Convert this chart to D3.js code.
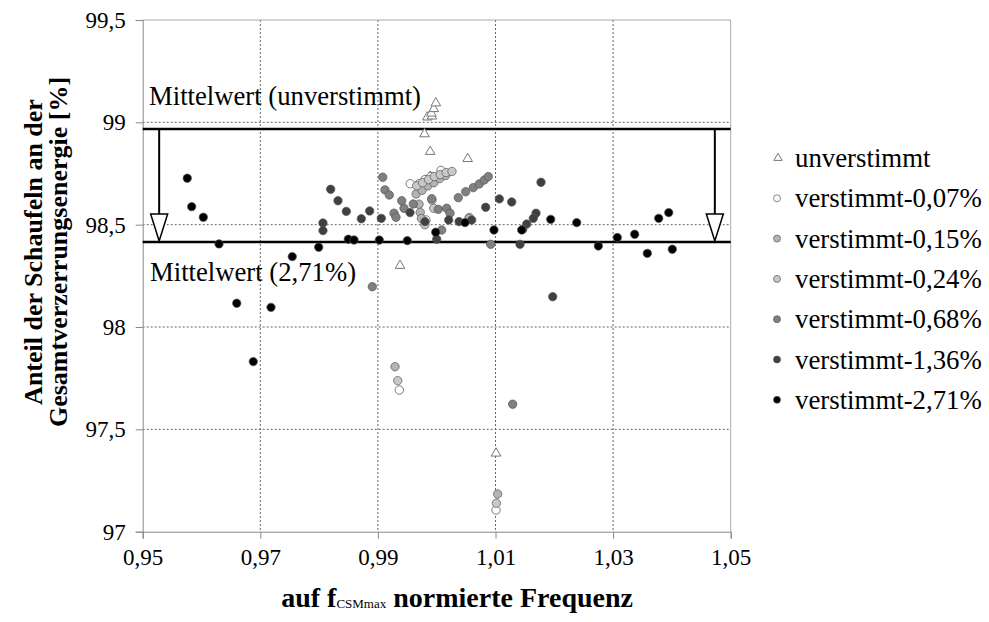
<!DOCTYPE html>
<html><head><meta charset="utf-8">
<script src="https://cdn.jsdelivr.net/npm/d3@7"></script>
<style>
body{margin:0;background:#fff}
text{font-family:"Liberation Serif","Times New Roman",serif;fill:#000}
</style>
</head><body>
<svg id="chart" width="989" height="622"></svg>
<script>
// ---- data ----
const xTickValues = [0.95, 0.97, 0.99, 1.01, 1.03, 1.05];
const yTickValues = [97, 97.5, 98, 98.5, 99, 99.5];
const seriesNames = ["unverstimmt","verstimmt-0,07%","verstimmt-0,15%","verstimmt-0,24%","verstimmt-0,68%","verstimmt-1,36%","verstimmt-2,71%"];
const seriesFills = ["#ffffff","#ffffff","#b4b4b4","#c8c8c8","#808080","#404040","#000000"];
const meanValues = [98.968, 98.415];
const meanLabels = ["Mittelwert (unverstimmt)","Mittelwert (2,71%)"];
const arrowX = [0.9528, 1.0473];

const unverstimmt = [[0.99376,98.300],[0.99793,98.943],[0.99889,98.857],[0.99889,98.735],[0.99840,99.025],[0.99920,99.030],[0.99910,99.044],[0.99950,99.066],[0.99985,99.094],[1.00527,98.822],[1.01009,97.383]];
const v007 = [[0.99364,97.692],[0.99550,98.700],[0.99700,98.700],[0.99800,98.720],[0.99900,98.735],[1.00073,98.765],[0.99818,98.523],[1.00555,98.535],[1.01009,97.106]];
const v015 = [[0.99291,97.806],[0.99650,98.650],[0.99750,98.668],[0.99850,98.690],[0.99950,98.705],[1.00050,98.725],[1.00150,98.740],[0.99700,98.600],[0.99720,98.560],[0.99740,98.530],[1.00550,98.530],[1.01037,97.184]];
const v024 = [[0.99337,97.738],[0.99660,98.690],[0.99760,98.705],[0.99860,98.720],[0.99960,98.735],[1.00060,98.745],[1.00160,98.755],[1.00260,98.760],[0.99920,98.620],[0.99950,98.580],[0.99800,98.500],[1.01014,97.139]];
const v068 = [[0.98905,98.197],[0.99082,98.732],[0.99120,98.670],[0.99194,98.645],[0.99405,98.617],[0.99444,98.580],[0.99274,98.556],[0.99308,98.536],[0.99602,98.601],[0.99915,98.627],[1.00027,98.575],[1.00170,98.580],[1.00226,98.556],[1.00367,98.632],[1.00493,98.661],[1.00622,98.681],[1.00724,98.699],[1.00809,98.718],[1.00877,98.735],[1.00085,98.474],[1.00918,98.404],[1.01292,97.623]];
const v136 = [[0.98066,98.508],[0.98066,98.471],[0.98197,98.673],[0.98321,98.617],[0.98463,98.565],[0.98718,98.529],[0.98860,98.567],[0.99058,98.531],[0.99546,98.559],[0.99801,98.515],[1.00000,98.429],[1.00204,98.523],[1.00380,98.515],[1.00595,98.523],[1.00833,98.585],[1.01065,98.626],[1.01276,98.611],[1.01774,98.707],[1.01689,98.556],[1.01643,98.531],[1.01531,98.503],[1.01463,98.477],[1.01417,98.404],[1.01973,98.148]];
const v271 = [[0.95758,98.727],[0.95833,98.588],[0.96031,98.536],[0.96298,98.406],[0.96599,98.116],[0.96881,97.831],[0.97182,98.096],[0.97544,98.344],[0.97993,98.390],[0.98497,98.429],[0.98594,98.425],[0.99024,98.425],[0.99500,98.422],[0.99983,98.463],[1.00481,98.510],[1.00974,98.474],[1.01445,98.474],[1.01939,98.526],[1.02381,98.510],[1.02749,98.396],[1.03072,98.437],[1.03367,98.453],[1.03582,98.360],[1.03776,98.531],[1.03946,98.559],[1.04007,98.380]];
const seriesData = [unverstimmt, v007, v015, v024, v068, v136, v271];

// ---- layout ----
const L = 142.7, R = 730.7, T = 20, B = 531.7;
const svg = d3.select("#chart");
const x = d3.scaleLinear().domain([0.95, 1.05]).range([L, R]);
const y = d3.scaleLinear().domain([97, 99.5]).range([B, T]);
const fmt = v => String(+v.toFixed(2)).replace(".", ",");

// gridlines
const grid = svg.append("g");
grid.selectAll(".gx").data(xTickValues.slice(1, -1)).join("line")
  .attr("x1", d => x(d)).attr("x2", d => x(d)).attr("y1", T).attr("y2", B)
  .attr("stroke", "#666").attr("stroke-width", 1).attr("stroke-dasharray", "2,2");
grid.selectAll(".gy").data(yTickValues.slice(1, -1)).join("line")
  .attr("y1", d => y(d)).attr("y2", d => y(d)).attr("x1", L).attr("x2", R)
  .attr("stroke", "#666").attr("stroke-width", 1).attr("stroke-dasharray", "2,2");
svg.append("line").attr("x1", L).attr("x2", R).attr("y1", T).attr("y2", T).attr("stroke", "#aaa");
svg.append("line").attr("x1", R).attr("x2", R).attr("y1", T).attr("y2", B).attr("stroke", "#aaa");

// axes
const xAxis = svg.append("g").attr("transform", `translate(0,${B})`)
  .call(d3.axisBottom(x).tickValues(xTickValues).tickFormat(fmt).tickSize(7).tickPadding(10));
const yAxis = svg.append("g").attr("transform", `translate(${L},0)`)
  .call(d3.axisLeft(y).tickValues(yTickValues).tickFormat(fmt).tickSize(7).tickPadding(10));
[xAxis, yAxis].forEach(a => {
  a.select(".domain").attr("stroke", "#888");
  a.selectAll(".tick line").attr("stroke", "#888");
  a.selectAll(".tick text").attr("font-size", 23).attr("font-family", "Liberation Serif").attr("fill", "#000");
});

// mean lines
svg.selectAll(".mean").data(meanValues).join("line")
  .attr("x1", L).attr("x2", R).attr("y1", d => y(d)).attr("y2", d => y(d))
  .attr("stroke", "#000").attr("stroke-width", 2.5);

// arrows
const headH = 28, headW = 8.5;
arrowX.forEach(ax => {
  const px = x(ax), y0 = y(meanValues[0]), y1 = y(meanValues[1]);
  svg.append("line").attr("x1", px).attr("x2", px).attr("y1", y0).attr("y2", y1 - headH)
    .attr("stroke", "#000").attr("stroke-width", 2);
  svg.append("path")
    .attr("d", `M${px - headW},${y1 - headH}L${px + headW},${y1 - headH}L${px},${y1 - 1}Z`)
    .attr("fill", "#fff").attr("stroke", "#000").attr("stroke-width", 1.5);
});

// mean labels
svg.append("text").attr("x", 149).attr("y", 105).attr("font-size", 26.7).text(meanLabels[0]);
svg.append("text").attr("x", 150).attr("y", 281).attr("font-size", 26.7).text(meanLabels[1]);

// points
const tri = d3.symbol().type(d3.symbolTriangle).size(40);
seriesData.forEach((data, i) => {
  const g = svg.append("g");
  if (i === 0) {
    g.selectAll("path").data(data).join("path")
      .attr("d", tri).attr("transform", d => `translate(${x(d[0])},${y(d[1])})`)
      .attr("fill", "#fff").attr("stroke", "#777").attr("stroke-width", 1);
  } else {
    g.selectAll("circle").data(data).join("circle")
      .attr("cx", d => x(d[0])).attr("cy", d => y(d[1])).attr("r", 4.2)
      .attr("fill", seriesFills[i]).attr("stroke", i === 1 ? "#444" : "#555").attr("stroke-width", 0.7);
  }
});

// legend
const lg = svg.append("g");
seriesNames.forEach((name, i) => {
  const cy = 158 + i * 40.3;
  if (i === 0) {
    lg.append("path").attr("d", d3.symbol().type(d3.symbolTriangle).size(30)())
      .attr("transform", `translate(778,${cy})`).attr("fill", "#fff").attr("stroke", "#777");
  } else {
    lg.append("circle").attr("cx", 777).attr("cy", cy).attr("r", 3.5)
      .attr("fill", seriesFills[i]).attr("stroke", "#555").attr("stroke-width", 0.7);
  }
  lg.append("text").attr("x", 795).attr("y", cy + 9).attr("font-size", 26.8).text(name);
});

// axis titles
const xt = svg.append("text").attr("x", 633).attr("y", 607).attr("text-anchor", "end")
  .attr("font-size", 28).attr("font-weight", "bold");
xt.append("tspan").text("auf f");
xt.append("tspan").attr("font-size", 13).attr("font-weight", "normal").attr("dy", 1).text("CSMmax");
xt.append("tspan").attr("dy", -1).text(" normierte Frequenz");

const yt = svg.append("text").attr("transform", `translate(0,252) rotate(-90)`)
  .attr("text-anchor", "middle").attr("font-size", 26).attr("font-weight", "bold");
yt.append("tspan").attr("x", 0).attr("y", 42).text("Anteil der Schaufeln an der");
yt.append("tspan").attr("x", 0).attr("y", 67).text("Gesamtverzerrungsenergie [%]");
</script>
</body></html>
